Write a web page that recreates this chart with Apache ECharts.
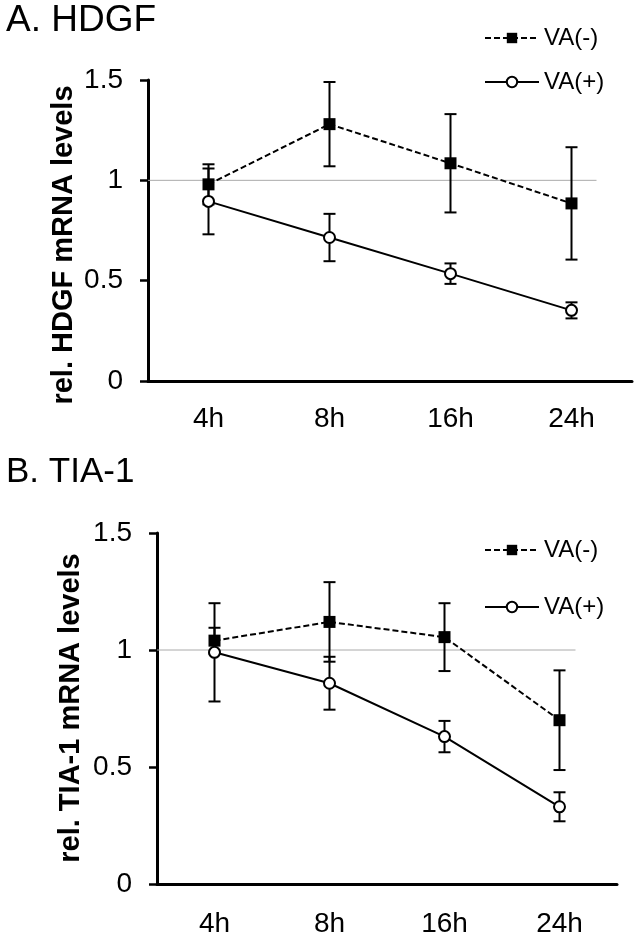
<!DOCTYPE html>
<html><head><meta charset="utf-8">
<script src="https://cdn.jsdelivr.net/npm/echarts@6/dist/echarts.min.js"></script>
<style>html,body{margin:0;padding:0;background:#fff}#c{width:640px;height:939px}</style>
</head><body><div id="c"></div>
<script>
const categories = ['4h', '8h', '16h', '24h'];
const seriesNames = ['VA(-)', 'VA(+)'];
const hdgfMinus = [0.98, 1.28, 1.085, 0.885];
const hdgfMinusErr = [0.10, 0.21, 0.245, 0.28];
const hdgfPlus = [0.895, 0.715, 0.535, 0.352];
const hdgfPlusErr = [0.164, 0.118, 0.051, 0.04];
const tiaMinus = [1.04, 1.12, 1.055, 0.70];
const tiaMinusErr = [0.055, 0.17, 0.145, 0.213];
const tiaPlus = [0.99, 0.858, 0.63, 0.33];
const tiaPlusErr = [0.21, 0.113, 0.067, 0.062];
const referenceLevel = 1;
const panelTitles = ['A. HDGF', 'B. TIA-1'];
const yAxisNames = ['rel. HDGF mRNA levels', 'rel. TIA-1 mRNA levels'];
const yMin = 0, yMax = 1.5, yInterval = 0.5;

const FONT = '"Liberation Sans", Arial, Helvetica, sans-serif';

function errorRenderItem(params, api) {
  const x = api.value(0), y = api.value(1), e = api.value(2);
  const hi = api.coord([x, y + e]), lo = api.coord([x, y - e]);
  const cw = 6;
  const st = { stroke: '#000', lineWidth: 2 };
  return { type: 'group', children: [
    { type: 'line', shape: { x1: hi[0], y1: hi[1], x2: lo[0], y2: lo[1] }, style: st },
    { type: 'line', shape: { x1: hi[0] - cw, y1: hi[1], x2: hi[0] + cw, y2: hi[1] }, style: st },
    { type: 'line', shape: { x1: lo[0] - cw, y1: lo[1], x2: lo[0] + cw, y2: lo[1] }, style: st }
  ]};
}

function refLine(extra) {
  return function (params, api) {
    const p0 = api.coord([0, api.value(1)]);
    const p3 = api.coord([categories.length - 1, api.value(1)]);
    const cs = params.coordSys;
    return { type: 'line', shape: { x1: cs.x, y1: p0[1], x2: p3[0] + extra, y2: p0[1] },
      style: { stroke: '#aaaaaa', lineWidth: 1 } };
  };
}

function errData(mean, err) { return categories.map((c, i) => [i, mean[i], err[i]]); }

function lineSeries(name, idx, data, dashed) {
  return {
    type: 'line', name: name, xAxisIndex: idx, yAxisIndex: idx, data: data, z: 5,
    symbol: dashed ? 'rect' : 'emptyCircle', symbolSize: dashed ? 12 : 11,
    lineStyle: { color: '#000', width: 2, type: dashed ? [6, 3] : 'solid' },
    itemStyle: dashed ? { color: '#000' } : { color: '#000', borderColor: '#000', borderWidth: 1.5 },
    emphasis: { disabled: true }
  };
}

function yAxis(idx) {
  return {
    gridIndex: idx, type: 'value', min: yMin, max: yMax, interval: yInterval,
    axisLine: { show: true, lineStyle: { color: '#000', width: 3 } },
    axisTick: { show: true, length: 8, lineStyle: { color: '#000', width: 2.5 } },
    splitLine: { show: false },
    axisLabel: { fontSize: 28, color: '#000', margin: 25, fontFamily: FONT }
  };
}

function xAxis(idx, margin) {
  return {
    gridIndex: idx, type: 'category', data: categories, boundaryGap: true,
    axisLine: { show: true, lineStyle: { color: '#000', width: 3 } },
    axisTick: { show: false },
    axisLabel: { fontSize: 28, color: '#000', margin: margin, fontFamily: FONT }
  };
}

function legend(top, gap) {
  return {
    data: seriesNames, orient: 'vertical', left: 484, top: top,
    itemWidth: 54, itemHeight: 13, itemGap: gap, padding: 0,
    textStyle: { fontSize: 24, lineHeight: 24, color: '#000', fontFamily: FONT },
    selectedMode: false
  };
}

function yName(text, x, y, size) {
  return { type: 'text', x: x, y: y, rotation: Math.PI / 2, silent: true,
    style: { text: text, fill: '#000', font: 'bold ' + size + 'px ' + FONT,
      align: 'center', verticalAlign: 'middle' } };
}

const chart = echarts.init(document.getElementById('c'), null, { renderer: 'canvas' });
chart.setOption({
  animation: false,
  backgroundColor: '#fff',
  textStyle: { fontFamily: FONT },
  title: [
    { text: panelTitles[0], left: 6, top: 2, padding: 0,
      textStyle: { fontSize: 37, lineHeight: 37, fontWeight: 'normal', color: '#000', fontFamily: FONT } },
    { text: panelTitles[1], left: 6, top: 455, padding: 0,
      textStyle: { fontSize: 35, lineHeight: 35, fontWeight: 'normal', color: '#000', fontFamily: FONT } }
  ],
  legend: [legend(26, 20), legend(538, 33)],
  graphic: [
    yName(yAxisNames[0], 64, 245, 29),
    yName(yAxisNames[1], 71, 708, 29)
  ],
  grid: [
    { left: 148, right: 8, top: 80, height: 301 },
    { left: 157, right: 23, top: 533, height: 351 }
  ],
  xAxis: [xAxis(0, 24), xAxis(1, 26)],
  yAxis: [yAxis(0), yAxis(1)],
  series: [
    { type: 'custom', name: 'ref1', xAxisIndex: 0, yAxisIndex: 0, z: 1, silent: true,
      renderItem: refLine(25), data: [[0, referenceLevel]] },
    { type: 'custom', name: 'ref2', xAxisIndex: 1, yAxisIndex: 1, z: 1, silent: true,
      renderItem: refLine(16), data: [[0, referenceLevel]] },
    { type: 'custom', name: 'errA-', xAxisIndex: 0, yAxisIndex: 0, z: 2, silent: true,
      renderItem: errorRenderItem, data: errData(hdgfMinus, hdgfMinusErr) },
    { type: 'custom', name: 'errA+', xAxisIndex: 0, yAxisIndex: 0, z: 2, silent: true,
      renderItem: errorRenderItem, data: errData(hdgfPlus, hdgfPlusErr) },
    { type: 'custom', name: 'errB-', xAxisIndex: 1, yAxisIndex: 1, z: 2, silent: true,
      renderItem: errorRenderItem, data: errData(tiaMinus, tiaMinusErr) },
    { type: 'custom', name: 'errB+', xAxisIndex: 1, yAxisIndex: 1, z: 2, silent: true,
      renderItem: errorRenderItem, data: errData(tiaPlus, tiaPlusErr) },
    lineSeries(seriesNames[0], 0, hdgfMinus, true),
    lineSeries(seriesNames[1], 0, hdgfPlus, false),
    lineSeries(seriesNames[0], 1, tiaMinus, true),
    lineSeries(seriesNames[1], 1, tiaPlus, false)
  ]
});
</script>
</body></html>
